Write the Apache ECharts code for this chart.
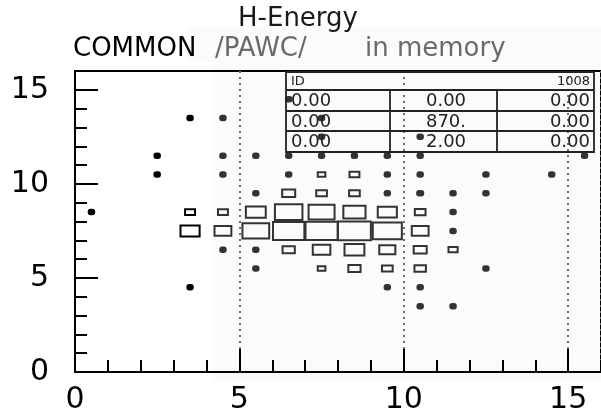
<!DOCTYPE html>
<html>
<head>
<meta charset="utf-8">
<script src="https://cdn.jsdelivr.net/npm/echarts@6/dist/echarts.min.js"></script>
<style>html,body{margin:0;padding:0;background:#fff}#c{width:601px;height:415px}</style>
</head>
<body>
<div id="c"></div>
<script>
// ---- data: bin centres and bin contents ----
const binX = [
  6.5,
  3.5, 4.5, 7.5,
  7.5, 10.5,
  2.5, 4.5, 5.5, 6.5, 7.5, 8.5, 9.5, 10.5, 15.5,
  2.5, 4.5, 6.5, 7.5, 8.5, 9.5, 10.5, 12.5, 14.5,
  5.5, 6.5, 7.5, 8.5, 9.5, 10.5, 11.5, 12.5,
  0.5, 3.5, 4.5, 5.5, 6.5, 7.5, 8.5, 9.5, 10.5, 11.5,
  3.5, 4.5, 5.5, 6.5, 7.5, 8.5, 9.5, 10.5, 11.5,
  4.5, 5.5, 6.5, 7.5, 8.5, 9.5, 10.5, 11.5,
  5.5, 7.5, 8.5, 9.5, 10.5, 12.5,
  3.5, 9.5, 10.5,
  10.5, 11.5
];
const binY = [
  14.5,
  13.5, 13.5, 13.5,
  12.5, 12.5,
  11.5, 11.5, 11.5, 11.5, 11.5, 11.5, 11.5, 11.5, 11.5,
  10.5, 10.5, 10.5, 10.5, 10.5, 10.5, 10.5, 10.5, 10.5,
  9.5, 9.5, 9.5, 9.5, 9.5, 9.5, 9.5, 9.5,
  8.5, 8.5, 8.5, 8.5, 8.5, 8.5, 8.5, 8.5, 8.5, 8.5,
  7.5, 7.5, 7.5, 7.5, 7.5, 7.5, 7.5, 7.5, 7.5,
  6.5, 6.5, 6.5, 6.5, 6.5, 6.5, 6.5, 6.5,
  5.5, 5.5, 5.5, 5.5, 5.5, 5.5,
  4.5, 4.5, 4.5,
  3.5, 3.5
];
const binCount = [
  1,
  1, 1, 1,
  1, 1,
  1, 1, 1, 1, 1, 1, 1, 1, 1,
  1, 1, 7, 10, 13, 6, 2, 1, 1,
  2, 17, 14, 14, 5, 8, 2, 2,
  2, 13, 13, 26, 36, 34, 29, 25, 14, 3,
  25, 22, 35, 41, 42, 43, 38, 22, 5,
  3, 3, 16, 23, 26, 21, 17, 12,
  2, 10, 16, 14, 15, 2,
  2, 4, 2,
  2, 2
];
const xTicks = [0, 5, 10, 15];
const yTicks = [0, 5, 10, 15];
const titleText = 'H-Energy';
const subtitleParts = ['COMMON', '/PAWC/', 'in memory'];
const statsHeader = ['ID', '1008'];
const statsCol1 = ['0.00', '0.00', '0.00'];
const statsCol2 = ['0.00', '870.', '2.00'];
const statsCol3 = ['0.00', '0.00', '0.00'];

const MAXC = 43;
const FONT = 'DejaVu Sans';
const data = binX.map((x, i) => [x, binY[i], binCount[i]]);

const chart = echarts.init(document.getElementById('c'), null, {renderer: 'canvas'});

function axisPair(isX) {
  const common = {
    type: 'value', min: 0, max: 16,
    position: isX ? 'bottom' : 'left',
    axisLine: {show: true, onZero: false, lineStyle: {color: '#000', width: 2}},
  };
  return [
    Object.assign({}, common, {
      interval: 1,
      axisTick: {show: true, inside: true, length: 12, lineStyle: {color: '#000', width: 2}},
      axisLabel: {show: false},
      splitLine: {show: false}
    }),
    Object.assign({}, common, {
      interval: 5,
      axisTick: {show: true, inside: true, length: 23, lineStyle: {color: '#000', width: 2}},
      axisLabel: {
        show: true, showMaxLabel: false, color: '#000', fontFamily: FONT, fontSize: 30,
        margin: isX ? 13 : 26,
        formatter: v => ((isX ? xTicks : yTicks).indexOf(v) >= 0 ? String(v) : '')
      },
      splitLine: isX ? {show: true, lineStyle: {color: '#6e6e6e', width: 2, type: [2, 4]}} : {show: false}
    })
  ];
}

const tblL = 286, tblR = 594, rows = [72, 90, 111, 131, 152], c1 = 390, c2 = 497;
const tblColor = '#222';
const graphics = [
  {type: 'polygon', z: -10, silent: true,
   shape: {points: [[186, 26], [601, 26], [601, 382], [212, 382], [212, 62], [186, 62]]},
   style: {fill: '#fbfbfb'}},
  {type: 'rect', z: 50, shape: {x: tblL, y: rows[0], width: tblR - tblL, height: rows[4] - rows[0]},
   style: {fill: 'none', stroke: tblColor, lineWidth: 1.8}},
];
[1, 2, 3].forEach(i => graphics.push({type: 'line', z: 50,
  shape: {x1: tblL, y1: rows[i], x2: tblR, y2: rows[i]}, style: {stroke: tblColor, lineWidth: 1.8}}));
[c1, c2].forEach(cx => graphics.push({type: 'line', z: 50,
  shape: {x1: cx, y1: rows[1], x2: cx, y2: rows[4]}, style: {stroke: tblColor, lineWidth: 1.8}}));
graphics.push({type: 'text', z: 51, x: 291, y: (rows[0] + rows[1]) / 2 + 1,
  style: {text: statsHeader[0], font: '13px ' + FONT, fill: tblColor, verticalAlign: 'middle'}});
graphics.push({type: 'text', z: 51, x: 590, y: (rows[0] + rows[1]) / 2 + 1,
  style: {text: statsHeader[1], font: '13px ' + FONT, fill: tblColor, align: 'right', verticalAlign: 'middle'}});
for (let r = 0; r < 3; r++) {
  const cy = (rows[r + 1] + rows[r + 2]) / 2 + 1;
  graphics.push({type: 'text', z: 51, x: 291, y: cy,
    style: {text: statsCol1[r], font: '18px ' + FONT, fill: tblColor, verticalAlign: 'middle'}});
  graphics.push({type: 'text', z: 51, x: 446, y: cy,
    style: {text: statsCol2[r], font: '18px ' + FONT, fill: tblColor, align: 'center', verticalAlign: 'middle'}});
  graphics.push({type: 'text', z: 51, x: 590, y: cy,
    style: {text: statsCol3[r], font: '18px ' + FONT, fill: tblColor, align: 'right', verticalAlign: 'middle'}});
}

const option = {
  animation: false,
  backgroundColor: '#fff',
  title: [
    {text: titleText, left: 293, top: 1, textAlign: 'center',
     textStyle: {fontFamily: FONT, fontSize: 26, fontWeight: 'normal', color: '#1a1a1a'}},
    {text: subtitleParts[0], left: 68, top: 31,
     textStyle: {fontFamily: FONT, fontSize: 26, fontWeight: 'normal', color: '#000'}},
    {text: subtitleParts[1], left: 210, top: 31,
     textStyle: {fontFamily: FONT, fontSize: 26, fontWeight: 'normal', color: '#6a6a6a'}},
    {text: subtitleParts[2], left: 360, top: 31,
     textStyle: {fontFamily: FONT, fontSize: 26, fontWeight: 'normal', color: '#6a6a6a'}}
  ],
  grid: {left: 75, top: 71, width: 529, height: 302, show: true, borderColor: '#000', borderWidth: 2,
         backgroundColor: 'transparent'},
  xAxis: axisPair(true),
  yAxis: axisPair(false),
  graphic: graphics,
  series: [{
    type: 'custom',
    xAxisIndex: 0, yAxisIndex: 0,
    data: data,
    renderItem: function (params, api) {
      const x = api.value(0), y = api.value(1), c = api.value(2);
      const a = api.coord([x - 0.5, y - 0.5]);
      const b = api.coord([x + 0.5, y + 0.5]);
      const ctr = api.coord([x, y]);
      const cw = b[0] - a[0], ch = a[1] - b[1];
      const f = Math.min(1, c / MAXC);
      const w = Math.max(f * cw, 5.5), h = Math.max(f * ch, 4.5);
      const col = x < 4 ? '#000' : '#333';
      const small = w < 6.5;
      return {
        type: 'rect',
        shape: {x: ctr[0] - w / 2, y: ctr[1] - h / 2, width: w, height: h, r: small ? 2 : 0},
        style: {fill: small ? col : 'none', stroke: col, lineWidth: 2}
      };
    }
  }]
};
chart.setOption(option);
</script>
</body>
</html>
